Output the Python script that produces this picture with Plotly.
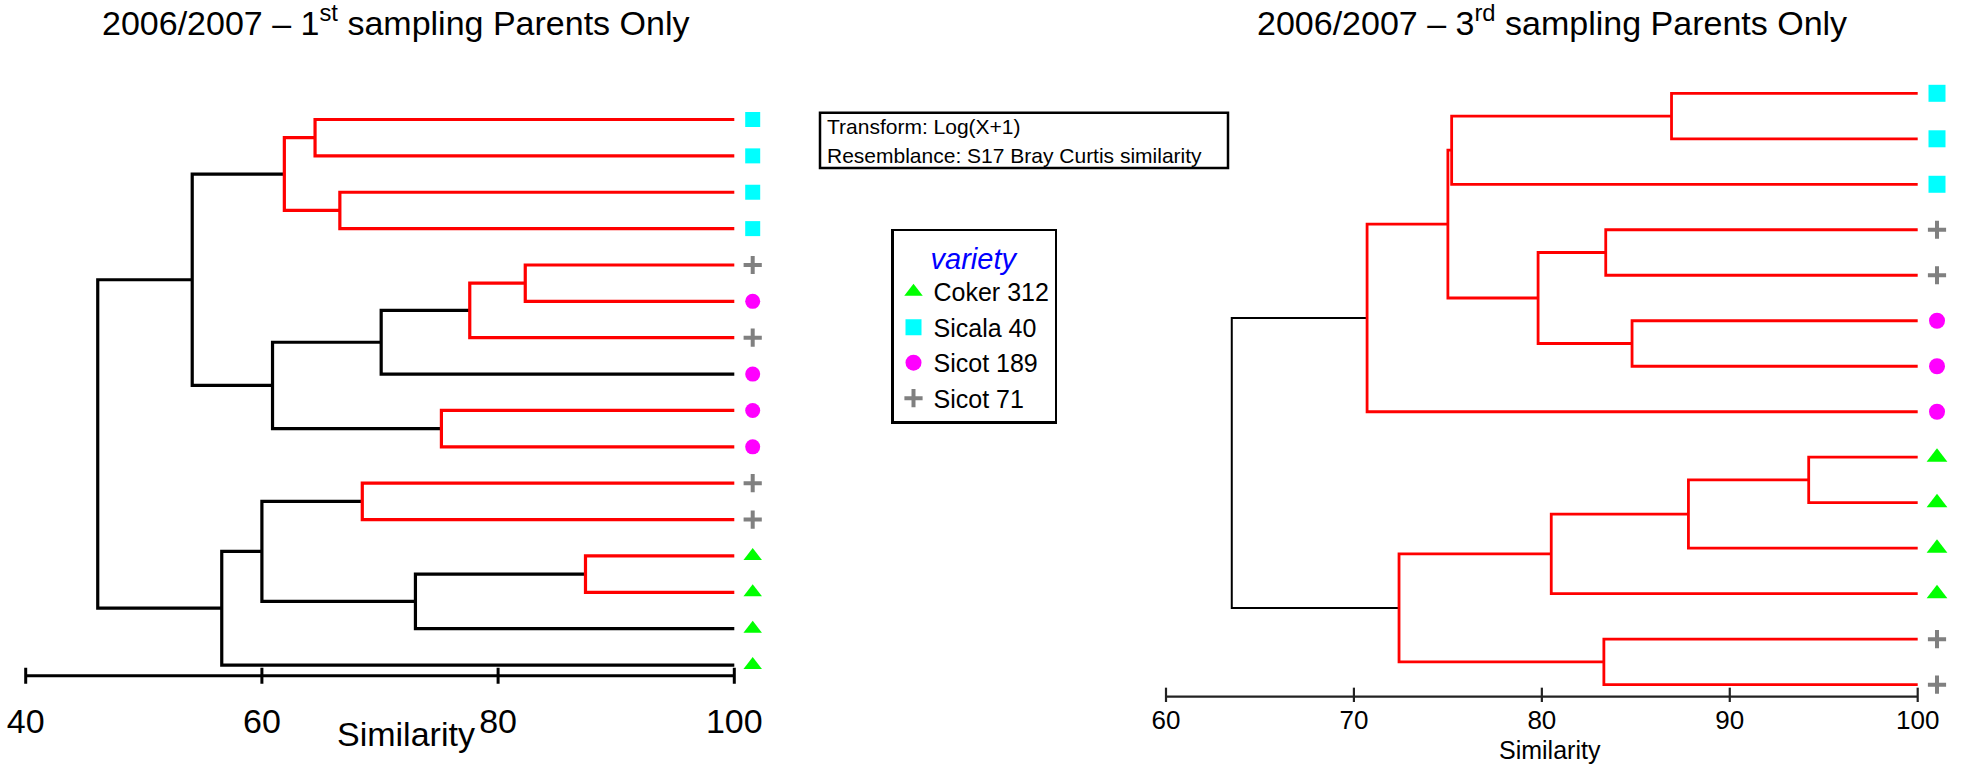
import plotly.graph_objects as go

W, H = 1961, 766
FONT = "Liberation Sans, Arial, Helvetica, sans-serif"

# ---------------- data ----------------
varieties = ["Coker 312", "Sicala 40", "Sicot 189", "Sicot 71"]
variety_colors = ["#00FF00", "#00FFFF", "#FF00FF", "#808080"]
variety_symbols = ["triangle-up", "square", "circle", "cross-thin"]

left_title = "2006/2007 – 1<sup>st</sup> sampling Parents Only"
right_title = "2006/2007 – 3<sup>rd</sup> sampling Parents Only"
axis_title = "Similarity"
legend_title = "variety"
info_lines = ["Transform: Log(X+1)", "Resemblance: S17 Bray Curtis similarity"]

# leaves, top to bottom
left_leaves = ["Sicala 40", "Sicala 40", "Sicala 40", "Sicala 40",
               "Sicot 71", "Sicot 189", "Sicot 71", "Sicot 189",
               "Sicot 189", "Sicot 189", "Sicot 71", "Sicot 71",
               "Coker 312", "Coker 312", "Coker 312", "Coker 312"]
# merges: (child a, child b, similarity %, non-significant group (red))
# children numbered: leaves 0..n-1, merge k -> n+k
left_merges = [
    (0, 1, 64.5, True),     # 16
    (2, 3, 66.6, True),     # 17
    (16, 17, 61.9, True),   # 18
    (4, 5, 82.3, True),     # 19
    (19, 6, 77.6, True),    # 20
    (20, 7, 70.1, False),   # 21
    (8, 9, 75.2, True),     # 22
    (21, 22, 60.9, False),  # 23
    (18, 23, 54.1, False),  # 24
    (10, 11, 68.5, True),   # 25
    (12, 13, 87.4, True),   # 26
    (26, 14, 73.0, False),  # 27
    (25, 27, 60.0, False),  # 28
    (28, 15, 56.6, False),  # 29
    (24, 29, 46.1, False),  # 30
]
left_ticks = [40, 60, 80, 100]

right_leaves = ["Sicala 40", "Sicala 40", "Sicala 40",
                "Sicot 71", "Sicot 71",
                "Sicot 189", "Sicot 189", "Sicot 189",
                "Coker 312", "Coker 312", "Coker 312", "Coker 312",
                "Sicot 71", "Sicot 71"]
right_merges = [
    (0, 1, 86.9, True),     # 14
    (14, 2, 75.2, True),    # 15
    (3, 4, 83.4, True),     # 16
    (5, 6, 84.8, True),     # 17
    (16, 17, 79.8, True),   # 18
    (15, 18, 75.0, True),   # 19
    (19, 7, 70.7, True),    # 20
    (8, 9, 94.2, True),     # 21
    (21, 10, 87.8, True),   # 22
    (22, 11, 80.5, True),   # 23
    (12, 13, 83.3, True),   # 24
    (23, 24, 72.4, True),   # 25
    (20, 25, 63.5, False),  # 26
]
right_ticks = [60, 70, 80, 90, 100]


# ---------------- helpers ----------------
def x_axis_cfg(px0, px1, pa, va, pb, vb):
    unit = (pb - pa) / (vb - va)
    return [px0 / W, px1 / W], [va + (px0 - pa) / unit, va + (px1 - pa) / unit], unit


def y_axis_cfg(ptop, pbot, leaf0_px, spacing):
    vtop = (ptop - leaf0_px) / spacing
    vbot = (pbot - leaf0_px) / spacing
    return [1 - pbot / H, 1 - ptop / H], [vbot, vtop]


def dendro_paths(n, merges, top=100.0):
    xs = {i: top for i in range(n)}
    ys = {i: float(i) for i in range(n)}
    out = {True: ([], []), False: ([], [])}
    for k, (a, b, h, red) in enumerate(merges):
        node = n + k
        xs[node] = h
        ys[node] = (ys[a] + ys[b]) / 2.0
        px, py = out[red]
        px += [xs[a], h, h, xs[b], None]
        py += [ys[a], ys[a], ys[b], ys[b], None]
    return out


fig = go.Figure()


def add_panel(leaves, merges, ticks, xa, ya, lw_red, lw_black, axis_off, tick_half,
              mark_x, sizes, axis_lw, axis_color, show_legend):
    paths = dendro_paths(len(leaves), merges)
    for red, color, lw in [(False, "black", lw_black), (True, "#FF0000", lw_red)]:
        px, py = paths[red]
        if px:
            fig.add_trace(go.Scatter(x=px, y=py, mode="lines", xaxis=xa, yaxis=ya,
                                     line=dict(color=color, width=lw),
                                     showlegend=False, hoverinfo="skip"))
    # axis line and ticks
    ay = len(leaves) - 1 + axis_off
    axx = [ticks[0], ticks[-1], None]
    axy = [ay, ay, None]
    for t in ticks:
        axx += [t, t, None]
        axy += [ay - tick_half, ay + tick_half, None]
    fig.add_trace(go.Scatter(x=axx, y=axy, mode="lines", xaxis=xa, yaxis=ya,
                             line=dict(color=axis_color, width=axis_lw),
                             showlegend=False, hoverinfo="skip"))
    # leaf markers
    for v, c, s in zip(varieties, variety_colors, variety_symbols):
        idx = [i for i, lv in enumerate(leaves) if lv == v]
        marker = dict(symbol=s, color=c, size=sizes[v], line=dict(width=0))
        if s == "cross-thin":
            marker["line"] = dict(width=4, color=c)
        fig.add_trace(go.Scatter(x=[mark_x] * len(idx), y=idx, mode="markers",
                                 xaxis=xa, yaxis=ya, marker=marker, name=v,
                                 legendgroup=v, showlegend=show_legend,
                                 cliponaxis=False, hoverinfo="skip"))


lx_dom, lx_rng, lunit = x_axis_cfg(0, 780, 25.7, 40, 734.3, 100)
ly_dom, ly_rng = y_axis_cfg(60, 698, 119.5, 36.37)
rx_dom, rx_rng, runit = x_axis_cfg(1100, 1961, 1166, 60, 1917.7, 100)
ry_dom, ry_rng = y_axis_cfg(40, 702, 93.3, 45.49)

add_panel(left_leaves, left_merges, left_ticks, "x", "y", 3.2, 3.2,
          (675.7 - 665.0) / 36.37, 8 / 36.37, 100 + 18.4 / lunit,
          {"Coker 312": 16, "Sicala 40": 15, "Sicot 189": 15, "Sicot 71": 13},
          3.0, "black", False)
add_panel(right_leaves, right_merges, right_ticks, "x2", "y2", 2.8, 2.0,
          (696.7 - 684.7) / 45.49, 9 / 45.49, 100 + 19.3 / runit,
          {"Coker 312": 18, "Sicala 40": 17, "Sicot 189": 16, "Sicot 71": 13},
          2.2, "#222222", True)

xcommon = dict(showgrid=False, zeroline=False, showline=False, ticks="")
ycommon = dict(visible=False, showgrid=False, zeroline=False)

fig.update_layout(
    width=W, height=H, margin=dict(l=0, r=0, t=0, b=0),
    paper_bgcolor="white", plot_bgcolor="white",
    font=dict(family=FONT, color="black"),
    xaxis=dict(domain=lx_dom, range=lx_rng, tickvals=left_ticks, anchor="y",
               tickfont=dict(family=FONT, color="black", size=34), **xcommon),
    yaxis=dict(domain=ly_dom, range=ly_rng, anchor="x", **ycommon),
    xaxis2=dict(domain=rx_dom, range=rx_rng, tickvals=right_ticks, anchor="y2",
                tickfont=dict(family=FONT, color="black", size=26), **xcommon),
    yaxis2=dict(domain=ry_dom, range=ry_rng, anchor="x2", **ycommon),
    showlegend=True,
    legend=dict(x=891 / W, y=1 - 228.7 / H, xanchor="left", yanchor="top",
                bgcolor="white", bordercolor="black", borderwidth=2.5,
                font=dict(family=FONT, size=25, color="black"),
                title=dict(text=legend_title, side="top center",
                           font=dict(family=FONT, size=29, color="#0000FF", style="italic")),
                traceorder="normal", itemsizing="trace", tracegroupgap=0),
)

annotations = [
    dict(text=left_title, x=395 / W, y=1 - 20 / H, xref="paper", yref="paper",
         xanchor="center", yanchor="middle", showarrow=False,
         font=dict(family=FONT, size=34, color="black")),
    dict(text=right_title, x=1552 / W, y=1 - 20 / H, xref="paper", yref="paper",
         xanchor="center", yanchor="middle", showarrow=False,
         font=dict(family=FONT, size=34, color="black")),
    dict(text=axis_title, x=406 / W, y=1 - 734 / H, xref="paper", yref="paper",
         xanchor="center", yanchor="middle", showarrow=False,
         font=dict(family=FONT, size=34, color="black")),
    dict(text=axis_title, x=1550 / W, y=1 - 750 / H, xref="paper", yref="paper",
         xanchor="center", yanchor="middle", showarrow=False,
         font=dict(family=FONT, size=25, color="black")),
    dict(text=info_lines[0], x=825 / W, y=1 - 126.7 / H, xref="paper", yref="paper",
         xanchor="left", yanchor="middle", showarrow=False,
         font=dict(family=FONT, size=21, color="black")),
    dict(text=info_lines[1], x=825 / W, y=1 - 155 / H, xref="paper", yref="paper",
         xanchor="left", yanchor="middle", showarrow=False,
         font=dict(family=FONT, size=21, color="black")),
]
fig.update_layout(annotations=annotations)
fig.add_shape(type="rect", xref="paper", yref="paper",
              x0=820 / W, x1=1228 / W, y0=1 - 168 / H, y1=1 - 112.7 / H,
              line=dict(color="black", width=2.5), fillcolor="rgba(0,0,0,0)")

fig.write_html("out.html")
